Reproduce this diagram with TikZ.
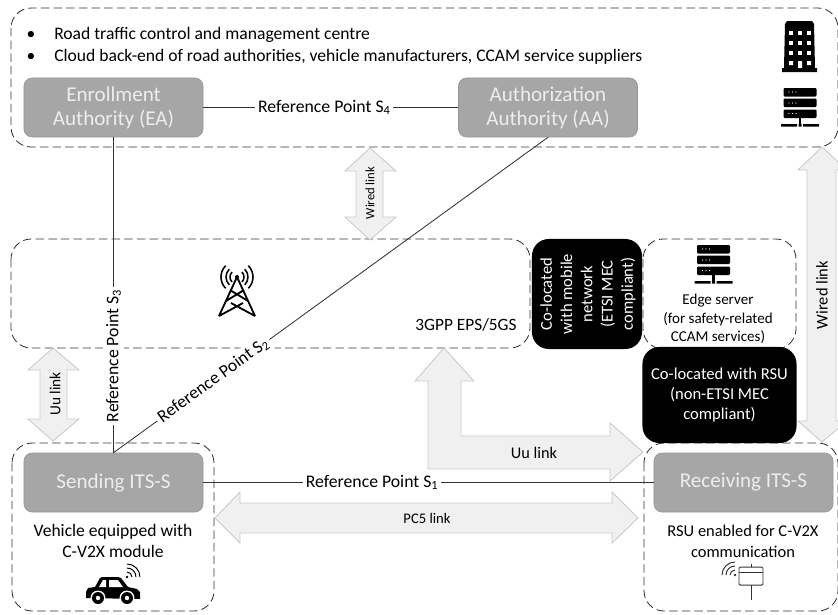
\documentclass[tikz,border=0pt]{standalone}
\usepackage{fontspec}
\setmainfont{Carlito}
\usepackage{tikz}
\usepackage{xcolor}
\usetikzlibrary{positioning}

\definecolor{boxgrey}{HTML}{A6A6A6}
\definecolor{boxtext}{HTML}{EDEDED}
\definecolor{arrowfill}{HTML}{F0F0F0}
\definecolor{arrowedge}{HTML}{C9C9C9}
\definecolor{wire}{HTML}{333333}

\tikzset{
    regionbox/.style = {draw=wire, line width=0.6pt, dash pattern=on 6pt off 3pt, rounded corners=0.5cm},
    greybox/.style = {draw=boxgrey!90!black, fill=boxgrey, rounded corners=0.2cm, text=boxtext, align=center,
        minimum width=4.475cm, minimum height=1.475cm, inner sep=0pt, font=\fontsize{15}{17}\selectfont},
    blackbox/.style = {fill=black, rounded corners=0.42cm, text=white, align=center, inner sep=0pt,
        font=\fontsize{11.8}{14.4}\selectfont},
    linkarrow/.style = {draw=arrowedge, fill=arrowfill, line width=0.6pt, line join=miter},
    wirelink/.style = {draw=wire, line width=0.6pt},
    reflabel/.style = {fill=white, inner sep=2pt, font=\fontsize{12.6}{14}\selectfont},
    plaintext/.style = {align=center, inner sep=0pt, font=\fontsize{12.5}{15}\selectfont},
    server/.pic = {
        \fill[rounded corners=0.03cm] (-16.5,0) rectangle (16.5,8.5) (-16.5,10.5) rectangle (16.5,19) (-16.5,21.5) rectangle (16.5,30);
        \foreach \row in {4, 15, 25.5} {
            \fill[white] (-11,\row) circle (0.6) (-7.5,\row) circle (0.6) (-4,\row) circle (0.6);
        }
        \fill (-1.2,30) rectangle (1.2,36);
        \fill (-19,36) rectangle (-3,38.5) (-1.5,36) rectangle (1.5,38.5) (3,36) rectangle (19,38.5);
    },
    waves/.pic = {
        \fill (0,0) circle (1.4);
        \foreach \r in {5, 9, 13} {
            \draw[line width=0.7pt] (\r,0) arc (0:-90:\r);
        }
    }
}

\begin{document}
\begin{tikzpicture}[x=0.025cm, y=-0.025cm]
    \useasboundingbox (0, 0) rectangle (838, 614);

    \draw[regionbox]
    (11, 8) rectangle (838, 147)
    (11, 239) rectangle (530, 348)
    (643, 239) rectangle (796, 349)
    (12, 443) rectangle (214, 611)
    (644, 443) rectangle (838, 611);

    \draw[linkarrow] (370, 148) -- (396, 171) -- (383, 171) -- (383, 217) -- (396, 217) -- (370, 240) -- (345, 217) -- (356, 217) -- (356, 171) -- (345, 171) -- cycle;
    \draw[linkarrow] (53, 348) -- (79, 370) -- (67, 370) -- (67, 419) -- (79, 419) -- (53, 441) -- (28, 419) -- (40, 419) -- (40, 370) -- (28, 370) -- cycle;
    \draw[linkarrow] (822, 147) -- (847, 170) -- (836, 170) -- (836, 421) -- (847, 421) -- (822, 442) -- (798, 421) -- (807, 421) -- (807, 170) -- (798, 170) -- cycle;
    \draw[linkarrow] (215, 518) -- (240, 492) -- (240, 503) -- (612, 503) -- (612, 492) -- (638, 518) -- (612, 543) -- (612, 533) -- (240, 533) -- (240, 543) -- cycle;
    \draw[linkarrow] (444, 348) -- (474, 381) -- (461, 381) -- (461, 436) -- (610, 436) -- (610, 423) -- (643, 452) -- (610, 481) -- (610, 469) -- (428, 469) -- (428, 381) -- (415, 381) -- cycle;

    \node[greybox] (ea) at (113.5, 107.5) {Enrollment\\Authority (EA)};
    \node[greybox] (aa) at (548, 107.5) {Authorization\\Authority (AA)};
    \node[greybox] (sending) at (113.5, 482.5) {Sending ITS-S};
    \node[greybox] (receiving) at (743.5, 482.5) {Receiving ITS-S};

    \node[blackbox, minimum width=2.75cm, minimum height=2.75cm] (mobilemec) at (587, 294) {};
    \node[blackbox, rotate=90, anchor=center] (mobiletext) at (588, 294) {Co-located\\with mobile\\network\\(ETSI MEC\\compliant)};
    \node[blackbox, minimum width=3.85cm, minimum height=2.4cm] (rsumec) at (719.5, 395) {Co-located with RSU\\(non-ETSI MEC\\compliant)};

    \draw[wirelink] (ea) -- (aa) node[reflabel, pos=0.475] (s4) {Reference Point S\textsubscript{4}};
    \draw[wirelink] (ea.south) -- (sending.north) node[reflabel, pos=0.693, rotate=90] (s3) {Reference Point S\textsubscript{3}};
    \draw[wirelink] (aa.south) -- (sending.north) node[reflabel, pos=0.77, rotate=36] (s2) {Reference Point S\textsubscript{2}};
    \draw[wirelink] (sending) -- (receiving) node[reflabel, pos=0.375] (s1) {Reference Point S\textsubscript{1}};

    \node[plaintext] (bulleta) at (31, 35) {•};
    \node[plaintext] (bulletb) at (31, 57) {•};
    \node[plaintext, anchor=west] (roadtext) at (54, 35) {Road traffic control and management centre};
    \node[plaintext, anchor=west] (cloudtext) at (54, 57) {Cloud back-end of road authorities, vehicle manufacturers, CCAM service suppliers};
    \node[plaintext, font=\fontsize{12.3}{15}\selectfont] (epstext) at (466, 325) {3GPP EPS/5GS};
    \node[plaintext, font=\fontsize{10.7}{13}\selectfont] (edgetext) at (718, 319) {Edge server\\(for safety-related\\CCAM services)};
    \node[plaintext] (vehicletext) at (113, 541) {Vehicle equipped with\\C-V2X module};
    \node[plaintext, font=\fontsize{11.7}{15}\selectfont] (rsutext) at (743, 541) {RSU enabled for C-V2X\\communication};

    \node[plaintext, rotate=90, font=\fontsize{9}{10}\selectfont] (wiredtop) at (370, 193) {Wired link};
    \node[plaintext, rotate=90, font=\fontsize{11.7}{12}\selectfont] (wiredright) at (822, 295) {Wired link};
    \node[plaintext, rotate=90, font=\fontsize{10.9}{12}\selectfont] (uuleft) at (55, 394) {Uu link};
    \node[plaintext, font=\fontsize{11.6}{12}\selectfont] (uumid) at (534, 453) {Uu link};
    \node[plaintext, font=\fontsize{10.4}{12}\selectfont] (pctext) at (427, 518) {PC5 link};

    \fill (787, 21) -- (812, 21) -- (814, 24) -- (815, 68) -- (817, 68) -- (817, 72) -- (782, 72) -- (782, 68) -- (784, 68) -- (785, 24) -- cycle;
    \foreach \winx in {791, 800, 809} {
        \foreach \winy in {33, 43, 53} {
            \fill[white] (\winx - 2, \winy - 2) rectangle (\winx + 2, \winy + 2);
        }
    }
    \fill[white] (789, 61) rectangle (793, 65) (807, 61) rectangle (811, 65) (798, 61) rectangle (802, 68);

    \pic at (800, 88) {server};
    \pic at (713.5, 245) {server};

    \draw[line width=1.3pt, line join=round] (219, 316) -- (237, 277) -- (255, 316)
    (226, 301) -- (244, 290) (230, 290) -- (248, 301) (219, 316) -- (243, 303) (255, 316) -- (231, 303);
    \fill (237, 277) circle (2);
    \foreach \r in {7, 11, 16} {
        \draw[line width=1.1pt] (237, 277) ++(-135:\r) arc (-135:-225:\r);
        \draw[line width=1.1pt] (237, 277) ++(-45:\r) arc (-45:45:\r);
    }

    \fill (86, 598) -- (86, 592) -- (88, 588) -- (95, 587) -- (100, 578) -- (102, 577) -- (118, 577) -- (121, 578) -- (128, 587) -- (137, 589) -- (140, 592) -- (140, 599) -- cycle;
    \fill[white] (103, 580) -- (106, 580) -- (106, 587) -- (99, 587) -- cycle (109, 580) -- (118, 580) -- (123, 587) -- (109, 587) -- cycle;
    \fill[white] (98, 598) circle (7.5) (127, 598) circle (7.5);
    \fill (98, 598) circle (6) (127, 598) circle (6);
    \fill[white] (98, 598) circle (2.2) (127, 598) circle (2.2);
    \pic at (127, 577) {waves};

    \draw[wire, line width=0.7pt, rounded corners=0.03cm] (739, 567) rectangle (763, 585);
    \draw[wire, line width=0.7pt] (739, 572) -- (763, 572) (751, 564) -- (751, 567) (751, 585) -- (751, 600);
    \pic[wire, xscale=-1] at (735, 575) {waves};
\end{tikzpicture}
\end{document}
